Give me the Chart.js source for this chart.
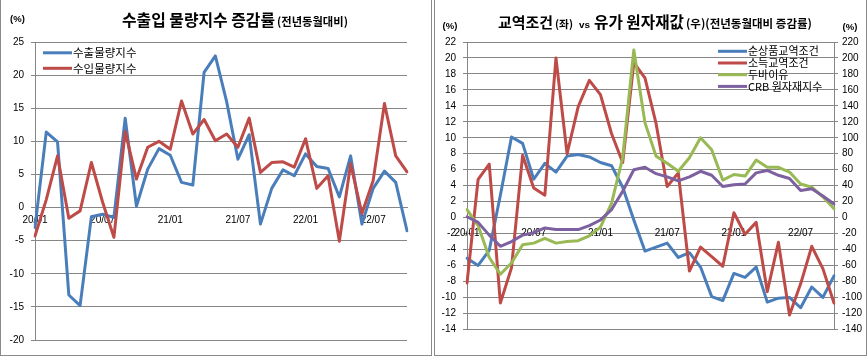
<!DOCTYPE html>
<html><head><meta charset="utf-8">
<script src="https://cdn.jsdelivr.net/npm/chart.js@4"></script>
<style>
html,body{margin:0;padding:0;background:#fff;width:867px;height:357px;overflow:hidden;position:relative;}
.panel{position:absolute;top:-1px;border:1px solid #8a8a8a;box-sizing:border-box;}
canvas{position:absolute;top:0;}
</style></head><body>
<div class="panel" style="left:0;width:432px;height:357px;"></div>
<div class="panel" style="left:434px;width:433px;height:357px;"></div>
<canvas id="c1" width="432" height="356" style="left:0;width:432px;height:356px"></canvas>
<canvas id="c2" width="433" height="356" style="left:434px;width:433px;height:356px"></canvas>
<script>
// ---------- data ----------
const months = ['20/01','20/02','20/03','20/04','20/05','20/06','20/07','20/08','20/09','20/10','20/11','20/12',
                '21/01','21/02','21/03','21/04','21/05','21/06','21/07','21/08','21/09','21/10','21/11','21/12',
                '22/01','22/02','22/03','22/04','22/05','22/06','22/07','22/08','22/09','22/10'];
// left chart (%, y/y)
const exportVolume = [-3.0, 11.4, 9.9, -13.2, -14.8, -1.4, -1.0, -1.5, 13.5, 0.2, 5.8, 8.9, 7.9, 3.8, 3.4, 20.4, 22.9, 16.0, 7.3, 11.0, -2.5, 2.9, 5.7, 4.8, 8.1, 6.2, 5.9, 1.6, 7.8, -2.5, 2.9, 5.5, 3.8, -3.5];
const importVolume = [-4.3, 1.2, 7.8, -1.6, -0.5, 6.8, 0.8, -4.5, 11.5, 4.3, 9.1, 10.0, 8.8, 16.1, 11.1, 13.3, 10.1, 11.1, 9.1, 13.5, 5.3, 6.8, 6.9, 6.1, 10.4, 2.9, 4.8, -5.1, 6.6, -0.9, 4.1, 15.7, 7.8, 5.4];
// right chart, left axis (%)
const netTermsOfTrade = [-5.1, -6.0, -4.1, 2.8, 10.1, 9.3, 4.8, 6.8, 5.7, 7.7, 7.9, 7.6, 6.9, 6.5, 3.8, -0.3, -4.2, -3.7, -3.2, -5.0, -4.4, -6.2, -9.9, -10.4, -7.0, -7.5, -6.2, -10.6, -10.1, -10.0, -11.3, -8.7, -10.0, -7.3];
const incomeTermsOfTrade = [-8.2, 4.8, 6.7, -10.7, -6.3, 7.8, 3.7, 2.8, 20.0, 8.0, 13.9, 17.2, 15.4, 10.5, 6.9, 19.4, 17.5, 11.8, 3.9, 5.6, -6.7, -3.7, -4.9, -6.1, 0.6, -2.1, -0.6, -9.3, -3.1, -12.2, -8.3, -3.6, -6.4, -10.7];
// right chart, right axis (%)
const dubaiOil = [10, -10, -50, -71, -57, -34, -32, -26, -32, -30, -29, -23, -12, 18, 75, 210, 119, 77, 68, 58, 75, 100, 85, 47, 54, 52, 72, 63, 63, 57, 42, 38, 26, 11];
const crbIndex = [1, -6, -22, -36, -30, -22, -19, -13, -15, -15, -15, -10, -3, 10, 33, 60, 63, 55, 51, 46, 51, 58, 53, 39, 41, 42, 56, 59, 53, 49, 34, 36, 27, 17];
// axis ranges [min, max, step]
const leftChartAxis = [-20, 25, 5];
const rightChartLeftAxis = [-14, 22, 2];
const rightChartRightAxis = [-140, 220, 20];
// labels
const leftSeriesNames = ['수출물량지수', '수입물량지수'];
const rightSeriesNames = ['순상품교역조건', '소득교역조건', '두바이유', 'CRB 원자재지수'];

// ---------- styles ----------
const KR = '"Noto Sans CJK KR", "Noto Sans", sans-serif';
const NUM = '"Liberation Sans", Arial, sans-serif';
const GRID = '#868686';
const BLUE = '#4a7ebb', RED = '#be4b48', GREEN = '#98b954', PURPLE = '#7d60a0';

const showLabel = (i) => { const m = months[i].slice(3); return m === '01' || m === '07'; };

const textPlugin = {
  id: 'textPlugin',
  afterDraw(chart, args, opts) {
    const ctx = chart.ctx;
    ctx.save();
    ctx.fillStyle = '#000';
    // title segments, each fitted to its width
    (opts.title || []).forEach(s => {
      ctx.font = `bold 14px ${s.family}`;
      const w = ctx.measureText(s.text).width;
      const size = 14 * s.w / w;
      ctx.font = `bold ${size.toFixed(2)}px ${s.family}`;
      ctx.textAlign = 'left'; ctx.textBaseline = 'alphabetic';
      ctx.fillText(s.text, s.x, s.base);
    });
    (opts.units || []).forEach(u => {
      ctx.font = u.font; ctx.textAlign = 'center'; ctx.textBaseline = 'middle';
      ctx.fillText(u.text, u.x, u.y);
    });
    if (opts.legend) {
      const lg = opts.legend;
      chart.data.datasets.forEach((ds, i) => {
        const y = lg.y0 + i * lg.dy;
        ctx.strokeStyle = ds.borderColor; ctx.lineWidth = 3; ctx.lineCap = 'butt';
        ctx.beginPath(); ctx.moveTo(lg.x, y); ctx.lineTo(lg.x + lg.len, y); ctx.stroke();
        ctx.font = lg.font; ctx.textAlign = 'left'; ctx.textBaseline = 'middle'; ctx.fillStyle = '#000';
        ctx.fillText(ds.label, lg.x + lg.len + 1, y);
      });
    }
    ctx.restore();
  }
};

const lineDs = (label, data, color, extra) => Object.assign({
  label, data, borderColor: color, backgroundColor: color, borderWidth: 3,
  pointRadius: 0, tension: 0, fill: false, borderJoinStyle: 'round', borderCapStyle: 'round'
}, extra || {});

const xAxis = (pad) => ({
  type: 'category', position: { y: 0 }, offset: false,
  grid: { display: true, drawOnChartArea: false, drawTicks: true, tickLength: 4, color: 'rgba(0,0,0,0)' },
  border: { display: true, color: GRID, width: 1 },
  ticks: { autoSkip: false, maxRotation: 0, minRotation: 0, padding: pad, color: '#000',
           font: { family: NUM, size: 10 },
           callback: (v, i) => showLabel(i) ? months[i] : '' }
});

// ---------- left chart ----------
new Chart(document.getElementById('c1'), {
  type: 'line',
  data: {
    labels: months,
    datasets: [
      lineDs(leftSeriesNames[0], exportVolume, BLUE, { order: 1 }),
      lineDs(leftSeriesNames[1], importVolume, RED, { order: 0 })
    ]
  },
  options: {
    responsive: false, animation: false, events: [],
    layout: { padding: { left: 0, right: 25, top: 42, bottom: 16 } },
    plugins: {
      legend: { display: false }, title: { display: false }, tooltip: { enabled: false },
      textPlugin: {
        title: [
          { text: '수출입 물량지수 증감률', family: KR, x: 122, w: 153, base: 26 },
          { text: '(전년동월대비)', family: KR, x: 277, w: 71, base: 26 }
        ],
        units: [{ text: '(%)', x: 17.5, y: 19, font: `bold 9.5px ${NUM}` }],
        legend: { x: 43, len: 29, y0: 52.8, dy: 15.5, font: `11.5px ${KR}` }
      }
    },
    scales: {
      x: xAxis(3),
      y: {
        min: leftChartAxis[0], max: leftChartAxis[1],
        ticks: { stepSize: leftChartAxis[2], padding: 7, color: '#000', font: { family: NUM, size: 10 } },
        grid: { color: GRID, lineWidth: 1, drawTicks: true, tickLength: 4 },
        border: { display: true, color: GRID, width: 1 },
        afterFit: s => { s.width = 35; }
      }
    }
  },
  plugins: [textPlugin]
});

// ---------- right chart ----------
new Chart(document.getElementById('c2'), {
  type: 'line',
  data: {
    labels: months,
    datasets: [
      lineDs(rightSeriesNames[0], netTermsOfTrade, BLUE, { yAxisID: 'y', order: 3 }),
      lineDs(rightSeriesNames[1], incomeTermsOfTrade, RED, { yAxisID: 'y', order: 2 }),
      lineDs(rightSeriesNames[2], dubaiOil, GREEN, { yAxisID: 'y1', order: 1 }),
      lineDs(rightSeriesNames[3], crbIndex, PURPLE, { yAxisID: 'y1', order: 0 })
    ]
  },
  options: {
    responsive: false, animation: false, events: [],
    layout: { padding: { left: 0, right: 0, top: 42, bottom: 26.7 } },
    plugins: {
      legend: { display: false }, title: { display: false }, tooltip: { enabled: false },
      textPlugin: {
        title: [
          { text: '교역조건', family: KR, x: 64, w: 55, base: 27.5 },
          { text: '(좌)', family: KR, x: 121, w: 18, base: 27.5 },
          { text: 'vs', family: NUM, x: 145, w: 11, base: 27.5 },
          { text: '유가 원자재값', family: KR, x: 160, w: 90, base: 27.5 },
          { text: '(우)(전년동월대비 증감률)', family: KR, x: 252, w: 126, base: 27.5 }
        ],
        units: [
          { text: '(%)', x: 16, y: 26, font: `bold 9.5px ${NUM}` },
          { text: '(%)', x: 416, y: 27, font: `bold 9.5px ${NUM}` }
        ],
        legend: { x: 284, len: 29, y0: 51.3, dy: 11.7, font: `11px ${KR}` }
      }
    },
    scales: {
      x: xAxis(6),
      y: {
        position: 'left',
        min: rightChartLeftAxis[0], max: rightChartLeftAxis[1],
        ticks: { stepSize: rightChartLeftAxis[2], padding: 7, color: '#000', font: { family: NUM, size: 10 } },
        grid: { color: GRID, lineWidth: 1, drawTicks: true, tickLength: 4 },
        border: { display: true, color: GRID, width: 1 },
        afterFit: s => { s.width = 33; }
      },
      y1: {
        position: 'right',
        min: rightChartRightAxis[0], max: rightChartRightAxis[1],
        ticks: { stepSize: rightChartRightAxis[2], padding: 4, color: '#000', font: { family: NUM, size: 10 } },
        grid: { drawOnChartArea: false, color: GRID, drawTicks: true, tickLength: 4 },
        border: { display: true, color: GRID, width: 1 },
        afterFit: s => { s.width = 33; }
      }
    }
  },
  plugins: [textPlugin]
});
</script>
</body></html>
